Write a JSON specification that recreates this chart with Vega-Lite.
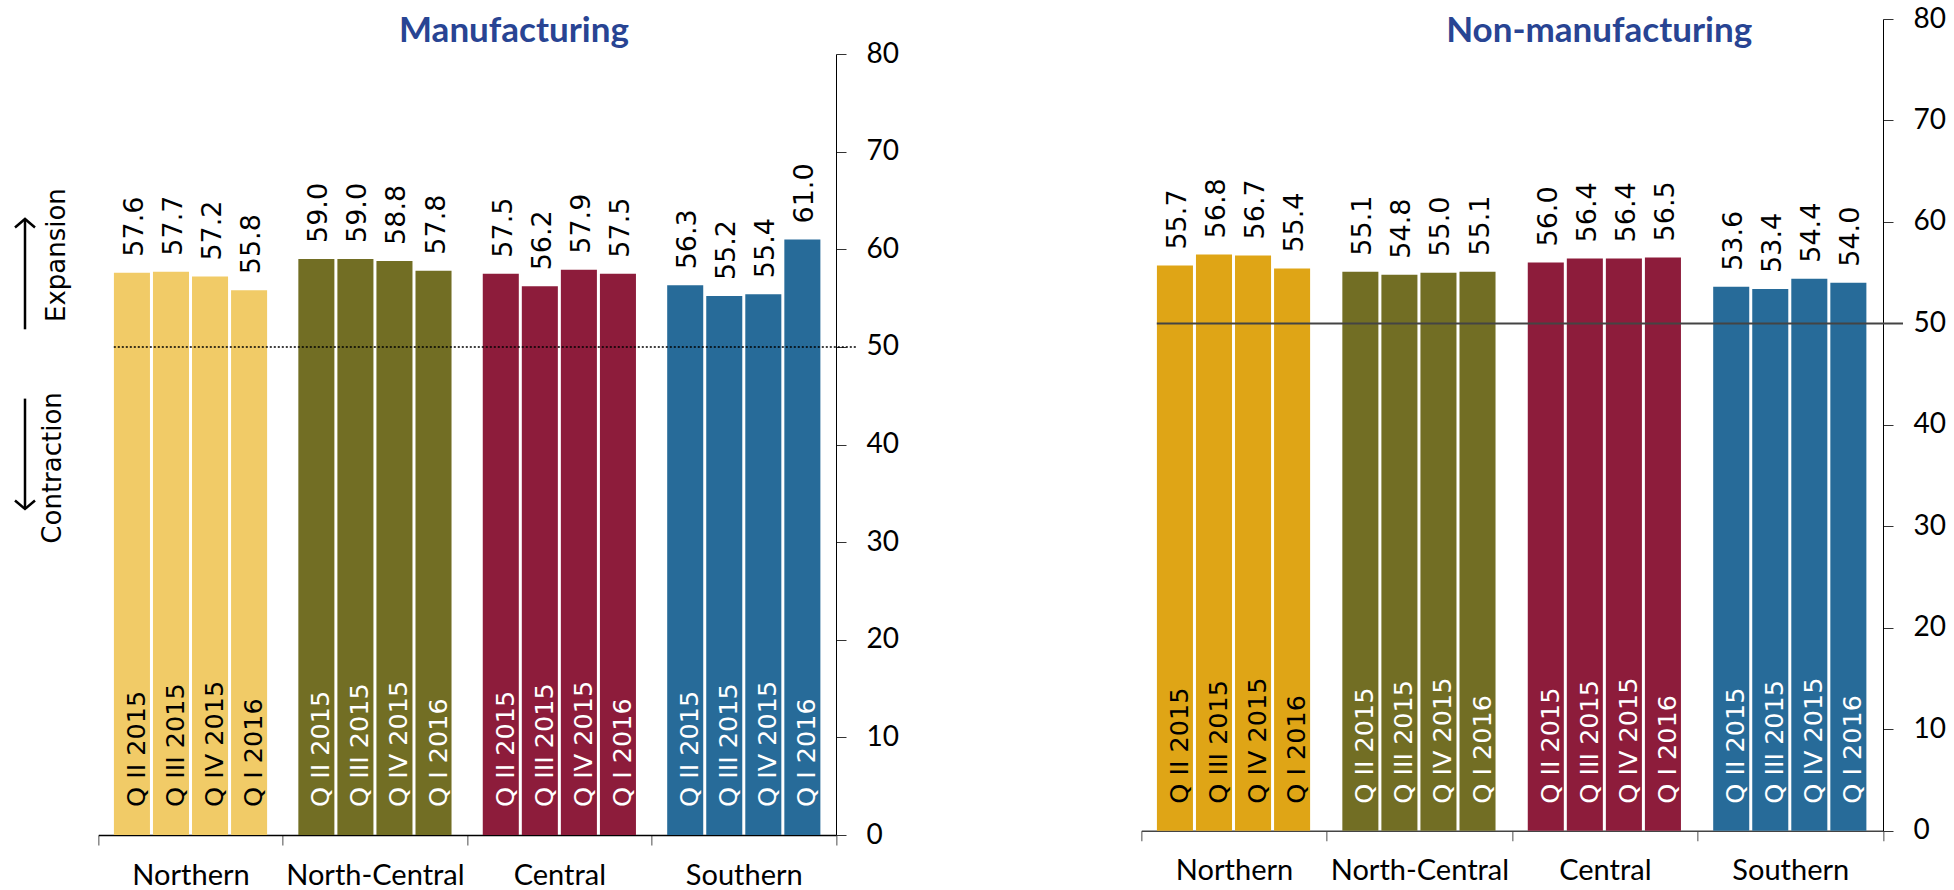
{
  "$schema": "https://vega.github.io/schema/vega-lite/v6.json",
  "padding": {"left": 0, "top": 4, "right": 0, "bottom": 0},
  "bounds": "flush",
  "spacing": 17.3,
  "config": {"view": {"stroke": "transparent"}, "axis": {"grid": false}},
  "datasets": {
    "manufacturing": [
      {"region": "Northern", "quarter": "Q II 2015", "value": 57.6},
      {"region": "Northern", "quarter": "Q III 2015", "value": 57.7},
      {"region": "Northern", "quarter": "Q IV 2015", "value": 57.2},
      {"region": "Northern", "quarter": "Q I 2016", "value": 55.8},
      {"region": "North-Central", "quarter": "Q II 2015", "value": 59.0},
      {"region": "North-Central", "quarter": "Q III 2015", "value": 59.0},
      {"region": "North-Central", "quarter": "Q IV 2015", "value": 58.8},
      {"region": "North-Central", "quarter": "Q I 2016", "value": 57.8},
      {"region": "Central", "quarter": "Q II 2015", "value": 57.5},
      {"region": "Central", "quarter": "Q III 2015", "value": 56.2},
      {"region": "Central", "quarter": "Q IV 2015", "value": 57.9},
      {"region": "Central", "quarter": "Q I 2016", "value": 57.5},
      {"region": "Southern", "quarter": "Q II 2015", "value": 56.3},
      {"region": "Southern", "quarter": "Q III 2015", "value": 55.2},
      {"region": "Southern", "quarter": "Q IV 2015", "value": 55.4},
      {"region": "Southern", "quarter": "Q I 2016", "value": 61.0}
    ],
    "nonmanufacturing": [
      {"region": "Northern", "quarter": "Q II 2015", "value": 55.7},
      {"region": "Northern", "quarter": "Q III 2015", "value": 56.8},
      {"region": "Northern", "quarter": "Q IV 2015", "value": 56.7},
      {"region": "Northern", "quarter": "Q I 2016", "value": 55.4},
      {"region": "North-Central", "quarter": "Q II 2015", "value": 55.1},
      {"region": "North-Central", "quarter": "Q III 2015", "value": 54.8},
      {"region": "North-Central", "quarter": "Q IV 2015", "value": 55.0},
      {"region": "North-Central", "quarter": "Q I 2016", "value": 55.1},
      {"region": "Central", "quarter": "Q II 2015", "value": 56.0},
      {"region": "Central", "quarter": "Q III 2015", "value": 56.4},
      {"region": "Central", "quarter": "Q IV 2015", "value": 56.4},
      {"region": "Central", "quarter": "Q I 2016", "value": 56.5},
      {"region": "Southern", "quarter": "Q II 2015", "value": 53.6},
      {"region": "Southern", "quarter": "Q III 2015", "value": 53.4},
      {"region": "Southern", "quarter": "Q IV 2015", "value": 54.4},
      {"region": "Southern", "quarter": "Q I 2016", "value": 54.0}
    ],
    "annot_arrows": [
      {"label": "Expansion", "pos": 0.30, "from": 51.8, "to": 63.1, "direction": "up"},
      {"label": "Contraction", "pos": 0.30, "from": 44.7, "to": 33.4, "direction": "down"}
    ],
    "annot_text": [
      {"label": "Expansion", "pos": 0.706, "value": 59.4},
      {"label": "Contraction", "pos": 0.644, "value": 37.6}
    ],
    "threshold": [{"level": 50, "start": "Northern", "end": "Southern"}]
  },
  "hconcat": [
    {
      "width": 80,
      "height": 816,
      "layer": [
        {
          "data": {"name": "annot_arrows"},
          "mark": {"type": "rule", "strokeWidth": 2.5, "color": "black"},
          "encoding": {
            "x": {"field": "pos", "type": "quantitative", "scale": {"domain": [0, 1]}, "axis": null},
            "y": {"field": "from", "type": "quantitative", "scale": {"domain": [0, 80], "range": [816, 35]}, "axis": null},
            "y2": {"field": "to"}
          }
        },
        {
          "data": {"name": "annot_arrows"},
          "mark": {"type": "point", "filled": false, "color": "black", "strokeWidth": 2.5, "size": 400, "opacity": 1},
          "encoding": {
            "x": {"field": "pos", "type": "quantitative", "scale": {"domain": [0, 1]}, "axis": null},
            "y": {"field": "to", "type": "quantitative", "scale": {"domain": [0, 80], "range": [816, 35]}, "axis": null},
            "shape": {"field": "direction", "type": "nominal", "scale": {"domain": ["up", "down"], "range": ["M-1,0.85L0,0L1,0.85", "M-1,-0.85L0,0L1,-0.85"]}, "legend": null}
          }
        },
        {
          "data": {"name": "annot_text"},
          "mark": {"type": "text", "angle": 270, "font": "DejaVu Sans", "fontSize": 26, "align": "center", "baseline": "middle", "color": "black"},
          "encoding": {
            "x": {"field": "pos", "type": "quantitative", "scale": {"domain": [0, 1]}, "axis": null},
            "y": {"field": "value", "type": "quantitative", "scale": {"domain": [0, 80], "range": [816, 35]}, "axis": null},
            "text": {"field": "label", "type": "nominal"}
          }
        }
      ]
    },
    {
      "bounds": "flush",
      "spacing": 305,
      "resolve": {"scale": {"color": "independent"}},
      "hconcat": [
        {
          "width": 737.7,
          "height": 816,
          "title": {"text": "Manufacturing", "font": "Lato", "fontWeight": "bold", "fontSize": 35, "color": "#284493", "anchor": "middle", "frame": "group", "baseline": "alphabetic", "offset": -37, "dx": 46.8, "dy": 20.7},
          "layer": [
            {
              "data": {"name": "manufacturing"},
              "mark": {"type": "bar"},
              "encoding": {
                "x": {"field": "region", "type": "nominal", "sort": null, "scale": {"domain": ["Northern", "North-Central", "Central", "Southern"], "paddingInner": 0, "paddingOuter": 0},
                  "axis": {"orient": "bottom", "title": null, "tickBand": "extent", "tickSize": 10, "labelAngle": 0, "labelFont": "Lato", "labelFontSize": 29, "labelPadding": 16, "labelColor": "black", "labelLimit": 0, "labelOverlap": false, "domainColor": "black", "domainWidth": 1.5, "tickColor": "#888", "tickWidth": 1.5}},
                "xOffset": {"field": "quarter", "type": "nominal", "sort": null, "scale": {"domain": ["Q II 2015", "Q III 2015", "Q IV 2015", "Q I 2016"], "paddingInner": 0.077, "paddingOuter": 0.4}},
                "y": {"field": "value", "type": "quantitative", "scale": {"domain": [0, 80], "range": [816, 35]},
                  "axis": {"orient": "right", "title": null, "values": [0, 10, 20, 30, 40, 50, 60, 70, 80], "tickSize": 10, "labelPadding": 20, "labelFont": "Lato", "labelFontSize": 28, "labelColor": "black", "domainColor": "black", "tickColor": "#333"}},
                "color": {"field": "region", "type": "nominal", "scale": {"domain": ["Northern", "North-Central", "Central", "Southern"], "range": ["#F1CB67", "#726E24", "#8D1C3B", "#276B99"]}, "legend": null}
              }
            },
            {
              "data": {"name": "manufacturing"},
              "mark": {"type": "text", "angle": 270, "align": "left", "baseline": "middle", "dx": 16, "dy": 3, "font": "DejaVu Sans", "fontSize": 27, "color": "black"},
              "encoding": {
                "x": {"field": "region", "type": "nominal", "sort": null},
                "xOffset": {"field": "quarter", "type": "nominal", "sort": null},
                "y": {"field": "value", "type": "quantitative"},
                "text": {"field": "value", "type": "quantitative", "format": ".1f"}
              }
            },
            {
              "data": {"name": "manufacturing"},
              "mark": {"type": "text", "angle": 270, "align": "left", "baseline": "middle", "dx": 28, "dy": 5, "font": "DejaVu Sans", "fontSize": 25.5},
              "encoding": {
                "x": {"field": "region", "type": "nominal", "sort": null},
                "xOffset": {"field": "quarter", "type": "nominal", "sort": null},
                "y": {"datum": 0, "type": "quantitative"},
                "text": {"field": "quarter", "type": "nominal"},
                "color": {"condition": {"test": "datum.region === 'Northern'", "value": "black"}, "value": "white"}
              }
            },
            {
              "data": {"name": "threshold"},
              "mark": {"type": "rule", "color": "black", "strokeWidth": 1.5, "strokeDash": [2, 2], "xOffset": 15.5, "x2Offset": 20},
              "encoding": {
                "x": {"field": "start", "type": "nominal", "sort": null, "bandPosition": 0},
                "x2": {"field": "end", "bandPosition": 1},
                "y": {"field": "level", "type": "quantitative"}
              }
            }
          ]
        },
        {
          "width": 741.7,
          "height": 811.7,
          "title": {"text": "Non-manufacturing", "font": "Lato", "fontWeight": "bold", "fontSize": 35, "color": "#284493", "anchor": "middle", "frame": "group", "baseline": "alphabetic", "offset": -51, "dx": 87, "dy": 20.7},
          "layer": [
            {
              "data": {"name": "nonmanufacturing"},
              "mark": {"type": "bar"},
              "encoding": {
                "x": {"field": "region", "type": "nominal", "sort": null, "scale": {"domain": ["Northern", "North-Central", "Central", "Southern"], "paddingInner": 0, "paddingOuter": 0},
                  "axis": {"orient": "bottom", "title": null, "tickBand": "extent", "tickSize": 10, "labelAngle": 0, "labelFont": "Lato", "labelFontSize": 29, "labelPadding": 16, "labelColor": "black", "labelLimit": 0, "labelOverlap": false, "domainColor": "#444", "domainWidth": 1.5, "tickColor": "#888", "tickWidth": 1.5}},
                "xOffset": {"field": "quarter", "type": "nominal", "sort": null, "scale": {"domain": ["Q II 2015", "Q III 2015", "Q IV 2015", "Q I 2016"], "paddingInner": 0.077, "paddingOuter": 0.4}},
                "y": {"field": "value", "type": "quantitative", "scale": {"domain": [0, 80]},
                  "axis": {"orient": "right", "title": null, "values": [0, 10, 20, 30, 40, 50, 60, 70, 80], "tickSize": 10, "labelPadding": 20, "labelFont": "Lato", "labelFontSize": 28, "labelColor": "black", "domainColor": "black", "tickColor": "#333"}},
                "color": {"field": "region", "type": "nominal", "scale": {"domain": ["Northern", "North-Central", "Central", "Southern"], "range": ["#DFA516", "#726E24", "#8D1C3B", "#276B99"]}, "legend": null}
              }
            },
            {
              "data": {"name": "nonmanufacturing"},
              "mark": {"type": "text", "angle": 270, "align": "left", "baseline": "middle", "dx": 16, "dy": 3, "font": "DejaVu Sans", "fontSize": 27, "color": "black"},
              "encoding": {
                "x": {"field": "region", "type": "nominal", "sort": null},
                "xOffset": {"field": "quarter", "type": "nominal", "sort": null},
                "y": {"field": "value", "type": "quantitative"},
                "text": {"field": "value", "type": "quantitative", "format": ".1f"}
              }
            },
            {
              "data": {"name": "nonmanufacturing"},
              "mark": {"type": "text", "angle": 270, "align": "left", "baseline": "middle", "dx": 27, "dy": 5, "font": "DejaVu Sans", "fontSize": 25.5},
              "encoding": {
                "x": {"field": "region", "type": "nominal", "sort": null},
                "xOffset": {"field": "quarter", "type": "nominal", "sort": null},
                "y": {"datum": 0, "type": "quantitative"},
                "text": {"field": "quarter", "type": "nominal"},
                "color": {"condition": {"test": "datum.region === 'Northern'", "value": "black"}, "value": "white"}
              }
            },
            {
              "data": {"name": "threshold"},
              "mark": {"type": "rule", "color": "#444", "strokeWidth": 2, "xOffset": 15.5, "x2Offset": 20},
              "encoding": {
                "x": {"field": "start", "type": "nominal", "sort": null, "bandPosition": 0},
                "x2": {"field": "end", "bandPosition": 1},
                "y": {"field": "level", "type": "quantitative"}
              }
            }
          ]
        }
      ]
    }
  ]
}
